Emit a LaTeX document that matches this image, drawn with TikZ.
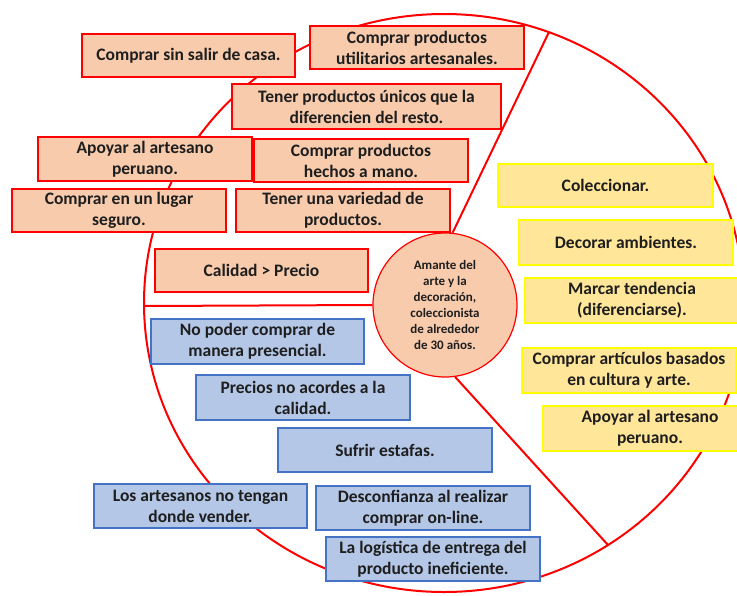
\documentclass[tikz,border=0pt]{standalone}
\usepackage{fontspec}
\setmainfont{Carlito}
\definecolor{ofill}{HTML}{F8CBAD}
\definecolor{yfill}{HTML}{FFE699}
\definecolor{yline}{HTML}{FFFF00}
\definecolor{bfill}{HTML}{B4C7E7}
\definecolor{bline}{HTML}{4472C4}
\definecolor{txt}{HTML}{1E1E1E}
\begin{document}
\begin{tikzpicture}[x=1pt,y=-1pt,
  base/.style={rectangle, minimum width=214, minimum height=44, inner sep=1pt, align=center,
    text=txt, line width=1.2pt, font=\fontsize{17.5}{21}\selectfont\bfseries},
  obox/.style={base, draw=red, fill=ofill},
  ybox/.style={base, draw=yline, fill=yfill},
  bbox/.style={base, draw=bline, fill=bfill},
  seg/.style={draw=red, line width=2pt}]
\useasboundingbox[fill=white] (0,0) rectangle (737,595);
% outer ellipse
\draw[seg] (444,303) ellipse [x radius=300, y radius=289];
% centre
\node[circle, draw=red, fill=ofill, line width=1.2pt, minimum size=144, inner sep=0pt, align=center,
  text=txt, font=\fontsize{13}{16}\selectfont\bfseries] (p) at (445,305)
  {Amante del\\arte y la\\decoración,\\coleccionista\\de alrededor\\de 30 años.};
\coordinate (eL) at (144,306);
\coordinate (eT) at (549,32);
\coordinate (eB) at (608,545);
\draw[seg] (eL) -- (p.west);
\draw[seg] (p.84) -- (eT);
\draw[seg] (p.-82) -- (eB);
% orange boxes
\node[obox, minimum width=213, minimum height=43] (o1) at (188.5,55.5) {Comprar sin salir de casa.};
\node[obox, minimum height=43] (o2) at (417,47.5) {Comprar productos\\utilitarios artesanales.};
\node[obox, minimum width=269, minimum height=45] (o3) at (366.5,106.5) {Tener productos únicos que la\\diferencien del resto.};
\node[obox] (o4) at (145,159) {Apoyar al artesano\\peruano.};
\node[obox, minimum height=43] (o5) at (361,160.5) {Comprar productos\\hechos a mano.};
\node[obox, minimum height=43] (o6) at (119,210.5) {Comprar en un lugar\\seguro.};
\node[obox, minimum height=43] (o7) at (343,210.5) {Tener una variedad de\\productos.};
\node[obox, minimum width=213, minimum height=43] (o8) at (261.5,270.5) {Calidad > Precio};
% yellow boxes
\node[ybox, minimum width=215, minimum height=43] (y1) at (605.5,185.5) {Coleccionar.};
\node[ybox, minimum height=45] (y2) at (626,242.5) {Decorar ambientes.};
\node[ybox, minimum height=45] (y3) at (632,300.5) {Marcar tendencia\\(diferenciarse).};
\node[ybox, minimum height=45] (y4) at (629,370.5) {Comprar artículos basados\\en cultura y arte.};
\node[ybox, minimum height=45] (y5) at (650,428.5) {Apoyar al artesano\\peruano.};
% blue boxes
\node[bbox, minimum width=213, minimum height=45] (b1) at (257.5,341.5) {No poder comprar de\\manera presencial.};
\node[bbox, minimum height=45] (b2) at (303,397.5) {Precios no acordes a la\\calidad.};
\node[bbox] (b3) at (385,450) {Sufrir estafas.};
\node[bbox, minimum width=213] (b4) at (200.5,506) {Los artesanos no tengan\\donde vender.};
\node[bbox] (b5) at (423,508) {Desconfianza al realizar\\comprar on-line.};
\node[bbox] (b6) at (433,559) {La logística de entrega del\\producto ineficiente.};
\end{tikzpicture}
\end{document}
